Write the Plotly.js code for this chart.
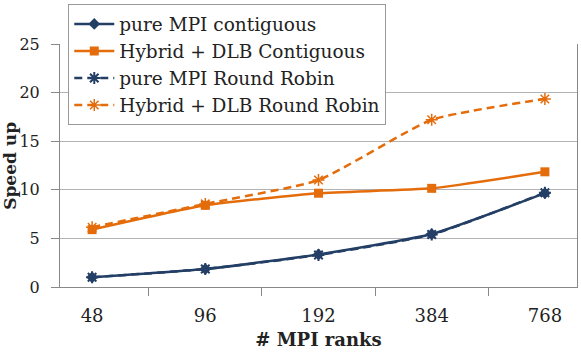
<!DOCTYPE html>
<html>
<head>
<meta charset="utf-8">
<script src="https://cdn.plot.ly/plotly-3.0.1.min.js"></script>
<style>
  html, body { margin: 0; padding: 0; background: #fff; }
  #chart { width: 581px; height: 353px; }
</style>
</head>
<body>
<div id="chart"></div>
<script>
// Chart data
const ranks = ['48', '96', '192', '384', '768']
const pureMpiContiguous = [1.0, 1.85, 3.35, 5.45, 9.65]
const hybridDlbContiguous = [5.9, 8.4, 9.65, 10.15, 11.85]
const pureMpiRoundRobin = [1.0, 1.85, 3.3, 5.4, 9.7]
const hybridDlbRoundRobin = [6.15, 8.55, 11.0, 17.2, 19.35]

const navy = '#243F66'
const orange = '#E46C0A'
const font = 'DejaVu Serif'

const traces = [
  {
    x: ranks, y: pureMpiContiguous, name: 'pure MPI contiguous',
    mode: 'lines+markers', type: 'scatter',
    line: { color: navy, width: 2.5, shape: 'spline', smoothing: 0.5 },
    marker: { symbol: 'diamond', size: 9, color: navy }
  },
  {
    x: ranks, y: hybridDlbContiguous, name: 'Hybrid + DLB Contiguous',
    mode: 'lines+markers', type: 'scatter',
    line: { color: orange, width: 2.5, shape: 'spline', smoothing: 0.5 },
    marker: { symbol: 'square', size: 9, color: orange }
  },
  {
    x: ranks, y: pureMpiRoundRobin, name: 'pure MPI Round Robin',
    mode: 'lines+markers', type: 'scatter',
    line: { color: navy, width: 2.5, dash: '8px,5px', shape: 'spline', smoothing: 0.5 },
    marker: { symbol: 'asterisk-open', size: 10, line: { color: navy, width: 2 } }
  },
  {
    x: ranks, y: hybridDlbRoundRobin, name: 'Hybrid + DLB Round Robin',
    mode: 'lines+markers', type: 'scatter',
    line: { color: orange, width: 2.5, dash: '8px,5px', shape: 'spline', smoothing: 0.5 },
    marker: { symbol: 'asterisk-open', size: 10, line: { color: orange, width: 1.5 } }
  }
]

const layout = {
  width: 581,
  height: 353,
  margin: { l: 60, r: 4, t: 42, b: 66 },
  paper_bgcolor: '#fff',
  plot_bgcolor: '#fff',
  font: { family: font, size: 18, color: '#222' },
  showlegend: true,
  legend: {
    x: 0.016, y: 1.163, xanchor: 'left', yanchor: 'top',
    bgcolor: '#fff', bordercolor: '#999', borderwidth: 1,
    font: { family: font, size: 18.5, color: '#222' },
    tracegroupgap: 0, itemwidth: 40
  },
  xaxis: {
    type: 'category',
    title: { text: '<b># MPI ranks</b>', font: { family: font, size: 18 }, standoff: 8 },
    showline: true, linecolor: '#888', linewidth: 1,
    ticks: 'outside', tickson: 'boundaries', ticklen: 8, tickcolor: '#888',
    ticklabelstandoff: 12,
    showgrid: false, zeroline: false,
    tickfont: { family: font, size: 18 }
  },
  yaxis: {
    range: [0, 25],
    dtick: 5,
    showline: true, linecolor: '#888', linewidth: 1, mirror: true,
    ticks: 'outside', ticklen: 8, tickcolor: '#888',
    ticklabelstandoff: 8,
    showgrid: true, gridcolor: '#b3b3b3', gridwidth: 1.2,
    zeroline: false,
    tickfont: { family: font, size: 16 }
  },
  // y title as an annotation so it sits where the reference puts it
  annotations: [{
    text: '<b>Speed up</b>', textangle: -90,
    xref: 'paper', yref: 'paper', x: -0.098, y: 0.5,
    xanchor: 'center', yanchor: 'middle', showarrow: false,
    font: { family: font, size: 17, color: '#222' }
  }]
}

Plotly.newPlot('chart', traces, layout, { displayModeBar: false, staticPlot: true })
</script>
</body>
</html>
